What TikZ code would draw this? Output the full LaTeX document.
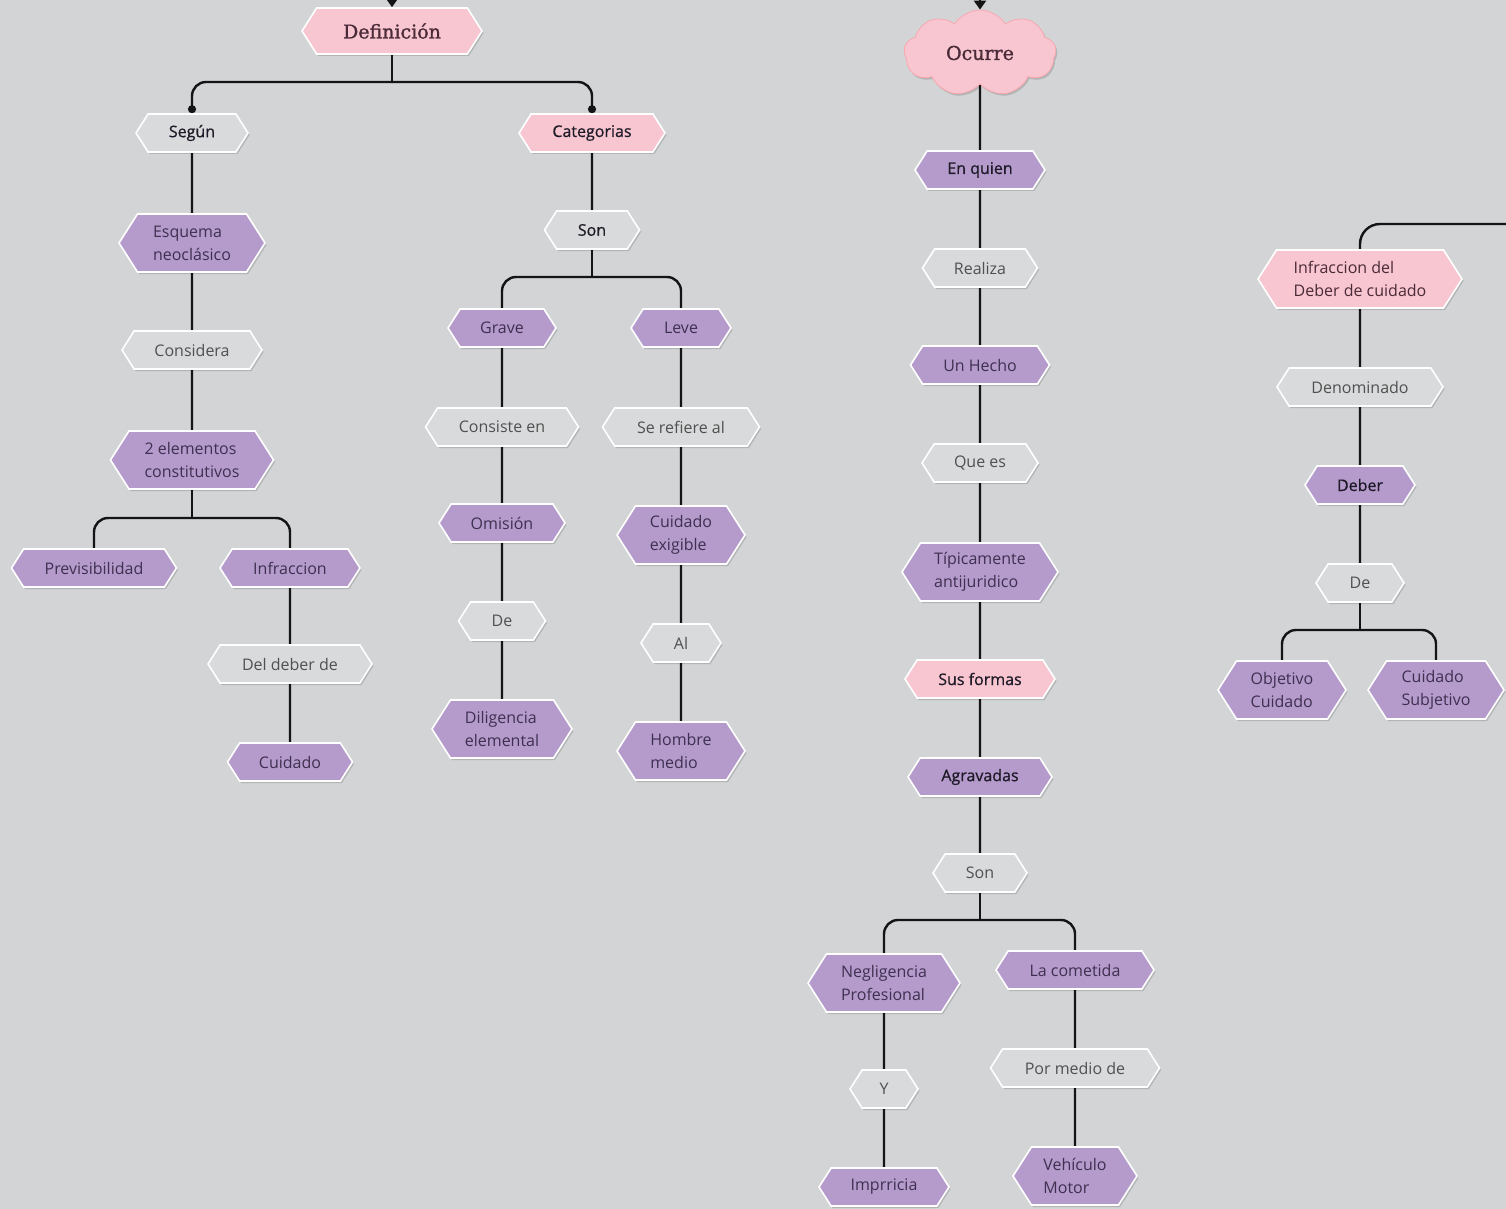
\documentclass[tikz,border=0pt]{standalone}
\usepackage{fontspec}
\setmainfont{Open Sans}
\newfontfamily\slabfont{DejaVu Serif}[FakeBold=1.2]
\newfontfamily\semibfont{Open Sans}[FakeBold=0.7]
\usetikzlibrary{shapes.symbols,shapes.geometric,arrows.meta,shadows}
\pgfdeclarelayer{backlayer}
\pgfsetlayers{backlayer,main}

\definecolor{bgc}{HTML}{D2D4D5}
\definecolor{purp}{HTML}{B59BCC}
\definecolor{pinkc}{HTML}{F8C6D0}
\definecolor{grayn}{HTML}{D9DADB}
\definecolor{ptext}{HTML}{3E3050}
\definecolor{gtext}{HTML}{505050}
\definecolor{dtext}{HTML}{1E1A28}
\definecolor{pktext}{HTML}{4A2A38}

\tikzset{
  hexa/.style={shape=signal, signal to=east and west, signal pointer angle=115,
    draw=white, line width=1.6pt, inner sep=2pt, align=left,
    font=\fontsize{16}{23}\selectfont, minimum height=38pt,
    drop shadow={shadow xshift=1.5pt, shadow yshift=-2pt, opacity=0.15, fill=black}},
  pnode/.style={hexa, fill=purp, text=ptext},
  gnode/.style={hexa, fill=grayn, text=gtext},
  knode/.style={hexa, fill=pinkc, text=pktext},
  strong/.style={text=dtext, font=\semibfont\fontsize{16}{23}\selectfont},
  two/.style={minimum height=58pt},
  conn/.style={line width=2.4pt, draw=black!92},
  br/.style={conn, rounded corners=14pt},
  titlefont/.style={font=\slabfont\fontsize{19}{22}\selectfont},
}

\begin{document}
\begin{tikzpicture}[x=1pt, y=-1pt]
\useasboundingbox (0,0) rectangle (1506,1209);

% ---- left tree: Definición
\node[knode, titlefont, minimum width=180pt, minimum height=46pt] (def) at (392,31) {Definición};
\node[gnode, strong, minimum width=112pt] (seg) at (192,133) {Según};
\node[knode, strong, minimum width=146pt] (cat) at (592,133) {Categorias};
\node[pnode, two, minimum width=146pt] (esq) at (192,243) {Esquema\\neoclásico};
\node[gnode, minimum width=140pt] (cons) at (192,350) {Considera};
\node[pnode, two, minimum width=163pt] (dos) at (192,460) {2 elementos\\constitutivos};
\node[pnode, minimum width=165pt] (prev) at (94,568) {Previsibilidad};
\node[pnode, minimum width=140pt] (infr) at (290,568) {Infraccion};
\node[gnode, minimum width=164pt] (deld) at (290,664) {Del deber de};
\node[pnode, minimum width=125pt] (cuid) at (290,762) {Cuidado};

\node[gnode, strong, minimum width=95pt] (son1) at (592,230) {Son};
\node[pnode, minimum width=108pt] (grave) at (502,328) {Grave};
\node[pnode, minimum width=100pt] (leve) at (681,328) {Leve};
\node[gnode, minimum width=153pt] (consen) at (502,427) {Consiste en};
\node[gnode, minimum width=157pt] (seref) at (681,427) {Se refiere al};
\node[pnode, minimum width=126pt] (omis) at (502,523) {Omisión};
\node[pnode, two, minimum width=128pt] (cuidex) at (681,535) {Cuidado\\exigible};
\node[gnode, minimum width=87pt] (de1) at (502,621) {De};
\node[gnode, minimum width=80pt] (al) at (681,643) {Al};
\node[pnode, two, minimum width=140pt] (dilig) at (502,729) {Diligencia\\elemental};
\node[pnode, two, minimum width=128pt] (hombre) at (681,751) {Hombre\\medio};

% ---- middle tree: Ocurre
\node[cloud, cloud puffs=9, cloud puff arc=115, aspect=1.7, fill=pinkc, draw=pinkc!85!red, line width=0.8pt,
      titlefont, text=pktext, minimum width=152pt, minimum height=86pt,
      drop shadow={shadow xshift=1.5pt, shadow yshift=-2pt, opacity=0.15, fill=black}] (ocurre) at (980,53) {Ocurre};
\node[pnode, strong, minimum width=130pt] (enq) at (980,170) {En quien};
\node[gnode, minimum width=115pt] (real) at (980,268) {Realiza};
\node[pnode, minimum width=139pt] (hecho) at (980,365) {Un Hecho};
\node[gnode, minimum width=116pt] (quees) at (980,463) {Que es};
\node[pnode, two, minimum width=156pt] (tip) at (980,572) {Típicamente\\antijuridico};
\node[knode, strong, minimum width=150pt] (sus) at (980,679) {Sus formas};
\node[pnode, strong, minimum width=144pt] (agr) at (980,777) {Agravadas};
\node[gnode, minimum width=94pt] (son2) at (980,873) {Son};
\node[pnode, two, minimum width=152pt] (neg) at (884,983) {Negligencia\\Profesional};
\node[pnode, minimum width=158pt] (lacom) at (1075,970) {La cometida};
\node[gnode, minimum width=68pt] (ynode) at (884,1089) {Y};
\node[gnode, minimum width=169pt] (pormed) at (1075,1068) {Por medio de};
\node[pnode, minimum width=130pt] (impr) at (884,1187) {Imprricia};
\node[pnode, two, minimum width=124pt] (veh) at (1075,1176) {Vehículo\\Motor};

% ---- right tree
\node[knode, two, minimum width=204pt] (infdeb) at (1360,279) {Infraccion del\\Deber de cuidado};
\node[gnode, minimum width=166pt] (denom) at (1360,387) {Denominado};
\node[pnode, strong, minimum width=110pt] (deber) at (1360,485) {Deber};
\node[gnode, minimum width=88pt] (de2) at (1360,583) {De};
\node[pnode, two, minimum width=128pt] (obj) at (1282,690) {Objetivo\\Cuidado};
\node[pnode, two, minimum width=136pt] (subj) at (1436,690) {Cuidado\\Subjetivo};

% ---- coordinates
\coordinate (defin) at (392,0);
\coordinate (ocin) at (980,0);
\coordinate (j1) at (392,82);
\coordinate (j2) at (592,277);
\coordinate (j3) at (192,518);
\coordinate (j4) at (980,920);
\coordinate (j5) at (1360,630);
\coordinate (rend) at (1506,224);

\begin{pgfonlayer}{backlayer}
\fill[bgc] (0,0) rectangle (1506,1209);
\draw[conn, -{Triangle[length=9pt,width=12pt]}] (defin) -- (def.north);
\draw[conn, -{Triangle[length=9pt,width=12pt]}] (ocin) -- (ocurre.north);
% left
\draw[conn] (def) -- (j1);
\draw[br, -{Circle[length=8pt]}] (j1) -| (seg.north);
\draw[br, -{Circle[length=8pt]}] (j1) -| (cat.north);
\draw[conn] (seg) -- (esq);
\draw[conn] (esq) -- (cons);
\draw[conn] (cons) -- (dos);
\draw[conn] (dos) -- (j3);
\draw[br] (j3) -| (prev);
\draw[br] (j3) -| (infr);
\draw[conn] (infr) -- (deld);
\draw[conn] (deld) -- (cuid);
\draw[conn] (cat) -- (son1);
\draw[conn] (son1) -- (j2);
\draw[br] (j2) -| (grave);
\draw[br] (j2) -| (leve);
\draw[conn] (grave) -- (consen);
\draw[conn] (consen) -- (omis);
\draw[conn] (omis) -- (de1);
\draw[conn] (de1) -- (dilig);
\draw[conn] (leve) -- (seref);
\draw[conn] (seref) -- (cuidex);
\draw[conn] (cuidex) -- (al);
\draw[conn] (al) -- (hombre);
% middle
\draw[conn] (ocurre) -- (enq);
\draw[conn] (enq) -- (real);
\draw[conn] (real) -- (hecho);
\draw[conn] (hecho) -- (quees);
\draw[conn] (quees) -- (tip);
\draw[conn] (tip) -- (sus);
\draw[conn] (sus) -- (agr);
\draw[conn] (agr) -- (son2);
\draw[conn] (son2) -- (j4);
\draw[br] (j4) -| (neg);
\draw[br] (j4) -| (lacom);
\draw[conn] (neg) -- (ynode);
\draw[conn] (ynode) -- (impr);
\draw[conn] (lacom) -- (pormed);
\draw[conn] (pormed) -- (veh);
% right
\draw[conn, rounded corners=20pt] (infdeb.north) |- (rend);
\draw[conn] (infdeb) -- (denom);
\draw[conn] (denom) -- (deber);
\draw[conn] (deber) -- (de2);
\draw[conn] (de2) -- (j5);
\draw[br] (j5) -| (obj);
\draw[br] (j5) -| (subj);
\end{pgfonlayer}
\end{tikzpicture}
\end{document}
